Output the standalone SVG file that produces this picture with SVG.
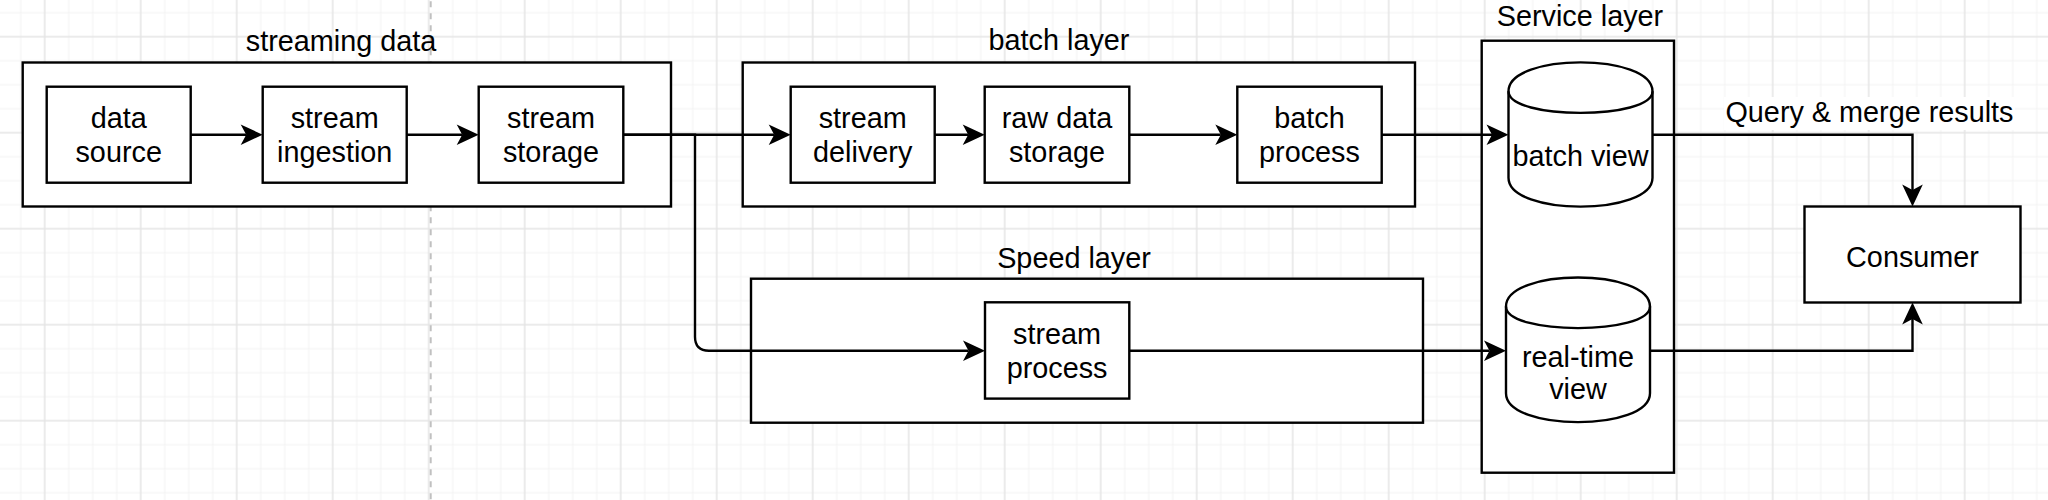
<svg xmlns="http://www.w3.org/2000/svg" width="2048" height="500" viewBox="0 0 2048 500">
  <style>
    .box { fill: #ffffff; stroke: #000000; stroke-width: 2.4; }
    .t { font-family: "Liberation Sans", Arial, Helvetica, sans-serif; font-size: 28.8px; fill: #000000; text-anchor: middle; }
    .edge { fill: none; stroke: #000000; stroke-width: 2.4; marker-end: url(#arr); }
    .minor { stroke: #f2f2f2; stroke-width: 1; }
    .major { stroke: #e5e5e5; stroke-width: 1.5; }
  </style>
  <defs>
    <pattern id="grid" patternUnits="userSpaceOnUse" x="-15.3" y="-23.3" width="96" height="96">
      <line class="minor" x1="12" y1="0" x2="12" y2="96"/>
      <line class="minor" x1="36" y1="0" x2="36" y2="96"/>
      <line class="minor" x1="84" y1="0" x2="84" y2="96"/>
      <line class="minor" x1="0" y1="12" x2="96" y2="12"/>
      <line class="minor" x1="0" y1="36" x2="96" y2="36"/>
      <line class="minor" x1="0" y1="84" x2="96" y2="84"/>
      <line class="major" x1="60" y1="0" x2="60" y2="96"/>
      <line class="major" x1="0" y1="60" x2="96" y2="60"/>
    </pattern>
    <marker id="arr" markerUnits="userSpaceOnUse" viewBox="-6 -11 23 22" markerWidth="23" markerHeight="22" refX="0" refY="0" orient="auto">
      <path d="M16.5,0 L-5.5,-10.3 L0,0 L-5.5,10.3 Z" fill="#000000"/>
    </marker>
  </defs>

  <g id="background">
    <rect x="0" y="0" width="2048" height="500" fill="#ffffff"/>
    <rect x="0" y="0" width="2048" height="500" fill="url(#grid)"/>
    <line x1="430.7" y1="0" x2="430.7" y2="500" stroke="#c0c0c0" stroke-width="2" stroke-dasharray="6 6" stroke-dashoffset="-1.3"/>
  </g>

  <g id="streaming-data">
    <rect class="box" x="22.7" y="62.5" width="648.3" height="144"/>
    <text class="t" x="341" y="51">streaming data</text>
  </g>
  <g id="data-source">
    <rect class="box" x="46.7" y="86.7" width="144" height="96"/>
    <text class="t" x="118.7" y="128.3">data</text>
    <text class="t" x="118.7" y="161.7">source</text>
  </g>
  <g id="stream-ingestion">
    <rect class="box" x="262.7" y="86.7" width="144" height="96"/>
    <text class="t" x="334.7" y="128.3">stream</text>
    <text class="t" x="334.7" y="161.7">ingestion</text>
  </g>
  <g id="stream-storage">
    <rect class="box" x="478.7" y="86.7" width="144.6" height="96"/>
    <text class="t" x="551" y="128.3">stream</text>
    <text class="t" x="551" y="161.7">storage</text>
  </g>

  <g id="batch-layer">
    <rect class="box" x="742.7" y="62.5" width="672.3" height="144"/>
    <text class="t" x="1059" y="50">batch layer</text>
  </g>
  <g id="stream-delivery">
    <rect class="box" x="790.7" y="86.7" width="144" height="96"/>
    <text class="t" x="862.7" y="128.3">stream</text>
    <text class="t" x="862.7" y="161.7">delivery</text>
  </g>
  <g id="raw-data-storage">
    <rect class="box" x="984.7" y="86.7" width="144.6" height="96"/>
    <text class="t" x="1057" y="128.3">raw data</text>
    <text class="t" x="1057" y="161.7">storage</text>
  </g>
  <g id="batch-process">
    <rect class="box" x="1237.3" y="86.7" width="144.4" height="96"/>
    <text class="t" x="1309.5" y="128.3">batch</text>
    <text class="t" x="1309.5" y="161.7">process</text>
  </g>

  <g id="speed-layer">
    <rect class="box" x="751" y="278.7" width="672" height="144"/>
    <text class="t" x="1074" y="268.3">Speed layer</text>
  </g>
  <g id="stream-process">
    <rect class="box" x="985" y="302.3" width="144.3" height="96.3"/>
    <text class="t" x="1057.1" y="344.3">stream</text>
    <text class="t" x="1057.1" y="377.6">process</text>
  </g>

  <g id="service-layer">
    <rect class="box" x="1481.7" y="40.7" width="192.3" height="432"/>
    <text class="t" x="1580" y="26">Service layer</text>
  </g>
  <g id="batch-view">
    <path class="box" d="M1508.5,91.3 C1508.5,52.7 1652.5,52.7 1652.5,91.3 L1652.5,177.7 C1652.5,216.3 1508.5,216.3 1508.5,177.7 Z"/>
    <path d="M1508.5,91.3 C1508.5,120.1 1652.5,120.1 1652.5,91.3" fill="none" stroke="#000000" stroke-width="2.4"/>
    <text class="t" x="1580.5" y="166">batch view</text>
  </g>
  <g id="real-time-view">
    <path class="box" d="M1506,306.5 C1506,267.9 1650,267.9 1650,306.5 L1650,393.2 C1650,431.8 1506,431.8 1506,393.2 Z"/>
    <path d="M1506,306.5 C1506,335.3 1650,335.3 1650,306.5" fill="none" stroke="#000000" stroke-width="2.4"/>
    <text class="t" x="1578" y="366.7">real-time</text>
    <text class="t" x="1578" y="399.3">view</text>
  </g>

  <g id="consumer">
    <rect class="box" x="1804.5" y="206.5" width="216" height="96"/>
    <text class="t" x="1912.5" y="266.7">Consumer</text>
  </g>

  <g id="connectors">
    <path class="edge" d="M190.7,134.7 H246.2"/>
    <path class="edge" d="M406.7,134.7 H462.2"/>
    <path class="edge" d="M623.3,134.7 H774.2"/>
    <path class="edge" d="M623.3,134.7 H695 V336.7 Q695,350.7 709,350.7 H968.5"/>
    <path class="edge" d="M934.7,134.7 H968.2"/>
    <path class="edge" d="M1129.3,134.7 H1220.8"/>
    <path class="edge" d="M1381.7,134.7 H1492"/>
    <path class="edge" d="M1129.3,350.7 H1489.5"/>
    <path class="edge" d="M1652.5,134.7 H1912.5 V190"/>
    <path class="edge" d="M1650,350.7 H1912.5 V319"/>
    <rect x="1724" y="97" width="291" height="33" fill="#ffffff"/>
    <text class="t" x="1869.5" y="121.7">Query &amp; merge results</text>
  </g>
</svg>
